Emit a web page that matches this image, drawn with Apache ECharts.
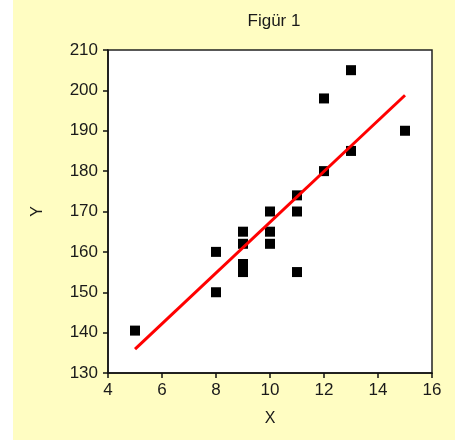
<!DOCTYPE html>
<html>
<head>
<meta charset="utf-8">
<script src="https://cdn.jsdelivr.net/npm/echarts@6/dist/echarts.min.js"></script>
<style>
  html, body { margin: 0; padding: 0; background: #ffffff; }
  #bg { position: absolute; left: 13px; top: 0; width: 442px; height: 440px; background: #fffdc2; }
  #main { position: absolute; left: 0; top: 0; width: 455px; height: 443px; }
</style>
</head>
<body>
<div id="bg"></div>
<div id="main"></div>
<script>
// punkter
var xVals = [5, 8, 8, 9, 9, 9, 9, 10, 10, 10, 11, 11, 11, 12, 12, 13, 13, 15];
var yVals = [140.5, 160, 150, 165, 162, 157, 155, 170, 165, 162, 170, 155, 174, 180, 198, 205, 185, 190];
// regresjonslinje (endepunkter lest fra figuren)
var fitX = [5, 15];
var fitY = [135.9, 198.8];

var points = [];
for (let i = 0, len = xVals.length; i < len; i++) {
  points.push([xVals[i], yVals[i]]);
}
var fitLine = [];
for (let i = 0; i < fitX.length; i++) {
  fitLine.push([fitX[i], fitY[i]]);
}

var txt = '#1a1a1a';
var chart = echarts.init(document.getElementById('main'));
var option = {
  backgroundColor: 'transparent',
  animation: false,
  textStyle: { fontFamily: 'Liberation Sans, Arial, sans-serif' },
  title: {
    text: 'Figür 1',
    left: 269,
    top: 8,
    textAlign: 'center',
    textStyle: { fontSize: 17, fontWeight: 'normal', color: txt }
  },
  grid: {
    left: 108,
    top: 50,
    right: 23,
    bottom: 70,
    show: true,
    backgroundColor: '#ffffff',
    borderColor: '#222',
    borderWidth: 1.5
  },
  xAxis: {
    type: 'value',
    min: 4,
    max: 16,
    interval: 2,
    name: 'X',
    nameLocation: 'middle',
    nameGap: 38,
    nameTextStyle: { fontSize: 16, color: txt },
    axisLine: { show: true, lineStyle: { color: '#111', width: 1.5 } },
    axisTick: { show: true, length: 5, lineStyle: { color: '#111', width: 1.5 } },
    axisLabel: { margin: 9, fontSize: 17, color: txt },
    splitLine: { show: false }
  },
  yAxis: {
    type: 'value',
    min: 130,
    max: 210,
    interval: 10,
    name: 'Y',
    nameLocation: 'middle',
    nameGap: 62,
    nameTextStyle: { fontSize: 16, color: txt },
    axisLine: { show: true, lineStyle: { color: '#111', width: 1.5 } },
    axisTick: { show: true, length: 5, lineStyle: { color: '#111', width: 1.5 } },
    axisLabel: { margin: 10, fontSize: 17, color: txt },
    splitLine: { show: false }
  },
  series: [
    {
      type: 'scatter',
      symbol: 'rect',
      symbolSize: 10,
      itemStyle: { color: '#000', opacity: 1 },
      data: points,
      z: 2
    },
    {
      type: 'line',
      showSymbol: false,
      lineStyle: { color: '#ff0000', width: 3 },
      data: fitLine,
      z: 3
    }
  ]
};
chart.setOption(option);
</script>
</body>
</html>
